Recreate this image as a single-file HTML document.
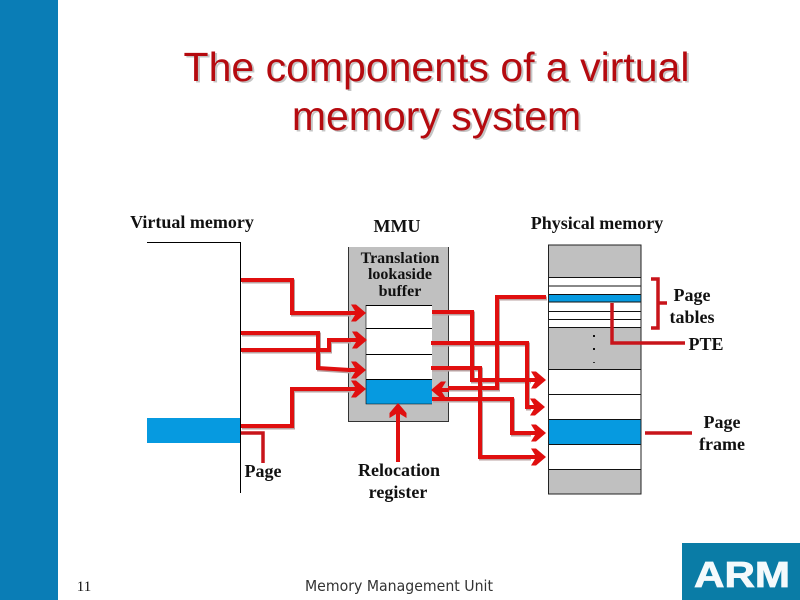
<!DOCTYPE html>
<html><head><meta charset="utf-8"><style>
html,body{margin:0;padding:0;background:#fff}
svg{display:block}
.t{font-family:"Liberation Sans",sans-serif;font-size:41px;fill:#b50a0f;text-anchor:middle}
.ts{font-family:"Liberation Sans",sans-serif;font-size:41px;fill:#c4c4c4;text-anchor:middle}
.b{font-family:"Liberation Serif",serif;font-weight:bold;font-size:18px;fill:#111;text-anchor:middle}
</style></head><body>
<svg width="800" height="600" viewBox="0 0 800 600" xmlns="http://www.w3.org/2000/svg">
<defs>
<g id="h"><path d="M-15,-8.5 L-10,-8.5 L0,0 L-10,8.5 L-15,8.5 L-11,2 L-18,2 L-18,-2 L-11,-2 Z" fill="#e00f0f"/></g>
</defs>
<rect x="0" y="0" width="58" height="600" fill="#0a7db6"/>
<text class="ts" x="438.5" y="82.5">The components of a virtual</text>
<text class="ts" x="438.5" y="131.5">memory system</text>
<text class="t" x="436.5" y="81">The components of a virtual</text>
<text class="t" x="436.5" y="130">memory system</text>

<text class="b" x="192" y="228">Virtual memory</text>
<text class="b" x="397" y="232">MMU</text>
<text class="b" x="597" y="229">Physical memory</text>

<!-- virtual memory -->
<rect x="147" y="418" width="93" height="25" fill="#069ae0"/>
<path d="M147,242.5H240.5V493" fill="none" stroke="#000" stroke-width="1"/>

<!-- TLB -->
<rect x="348.5" y="247" width="100" height="174" fill="#c0c0c0"/>
<path d="M348.5,247V421.5H448.5V247" fill="none" stroke="#333" stroke-width="1"/>
<text class="b" x="400" y="263" style="font-size:16px">Translation</text>
<text class="b" x="400" y="279" style="font-size:16px">lookaside</text>
<text class="b" x="400" y="296" style="font-size:16px">buffer</text>
<rect x="366" y="305" width="66" height="74" fill="#fff"/>
<rect x="366" y="379" width="66" height="25" fill="#069ae0"/>
<path d="M366,305.5H432M366,328.5H432M366,354.5H432M366,379.5H432" stroke="#000" stroke-width="1" fill="none"/>
<path d="M366,305V404H432" fill="none" stroke="#000" stroke-width="0.6"/>

<!-- physical memory -->
<rect x="548.5" y="245" width="92.5" height="249" fill="#c0c0c0" stroke="#222" stroke-width="1"/>
<rect x="549" y="277" width="92" height="50" fill="#fff"/>
<rect x="549" y="294" width="92" height="8" fill="#069ae0"/>
<rect x="549" y="369" width="92" height="100" fill="#fff"/>
<rect x="549" y="419" width="92" height="25" fill="#069ae0"/>
<path d="M549,277.5H641M549,286H641M549,294.5H641M549,302H641M549,311.5H641M549,319.5H641M549,327.5H641M549,369.5H641M549,394.5H641M549,419.5H641M549,444.5H641M549,469.5H641" stroke="#111" stroke-width="1" fill="none"/>
<path d="M548.5,245V494H641V245" fill="none" stroke="#222" stroke-width="1"/>
<rect x="593" y="335" width="2" height="2" fill="#111"/>
<rect x="593" y="348" width="2" height="2" fill="#111"/>
<rect x="593" y="362" width="2" height="1" fill="#333"/>

<!-- arrow shadows -->
<g fill="none" stroke="#b9a0a0" stroke-width="4" transform="translate(1,1.5)">
<path d="M241,280H292V313H350M241,333H318V368L350,370M241,350H329V340H350M241,426H292V389H350"/>
<path d="M432,312H472V380H530M431,343H527V407H530M431,368H480V457H530M432,399H512V433H530"/>
<path d="M546,297H497V388H448"/>
</g>
<!-- arrows -->
<g fill="none" stroke="#e00f0f" stroke-width="4">
<path d="M241,280H292V313H350"/>
<path d="M241,333H318V368L350,370"/>
<path d="M241,350H329V340H350"/>
<path d="M241,426H292V389H350"/>
<path d="M432,312H472V380H530"/>
<path d="M431,343H527V407H530"/>
<path d="M431,368H480V457H530"/>
<path d="M432,399H512V433H530"/>
<path d="M546,297H497V388H448"/>
<path d="M398,462V418"/>
</g>
<use href="#h" x="366" y="313"/>
<use href="#h" x="367" y="340"/>
<use href="#h" x="366" y="370"/>
<use href="#h" x="366" y="389"/>
<use href="#h" x="546" y="380"/>
<use href="#h" x="545" y="407"/>
<use href="#h" x="546" y="433"/>
<use href="#h" x="546" y="457"/>
<use href="#h" transform="translate(431,390) rotate(180)"/>
<use href="#h" transform="translate(398,403) rotate(-90)"/>

<!-- dark red labels -->
<g fill="none" stroke="#c8141a" stroke-width="3.5">
<path d="M241,433H263V463"/>
<path d="M651,279H658V328H651M658,303H667"/>
<path d="M612,303V343H685"/>
<path d="M645,433H692"/>
</g>

<text class="b" x="263" y="477">Page</text>
<text class="b" x="399" y="476">Relocation</text>
<text class="b" x="398" y="498">register</text>
<text class="b" x="692" y="301">Page</text>
<text class="b" x="692" y="323">tables</text>
<text class="b" x="706" y="350">PTE</text>
<text class="b" x="722" y="428">Page</text>
<text class="b" x="722" y="450">frame</text>

<text x="84" y="591" font-family="Liberation Serif,serif" font-size="15" fill="#111" text-anchor="middle">11</text>
<text x="399" y="591" font-family="DejaVu Sans,sans-serif" font-size="15" fill="#333" text-anchor="middle" textLength="188" lengthAdjust="spacingAndGlyphs">Memory Management Unit</text>

<rect x="682" y="543" width="118" height="57" fill="#0a7ca6"/>
<text x="742" y="587" font-family="Liberation Sans,sans-serif" font-weight="bold" font-size="36" fill="#f4fafc" stroke="#f4fafc" stroke-width="0.8" text-anchor="middle" textLength="96" lengthAdjust="spacingAndGlyphs">ARM</text>
</svg>
</body></html>
